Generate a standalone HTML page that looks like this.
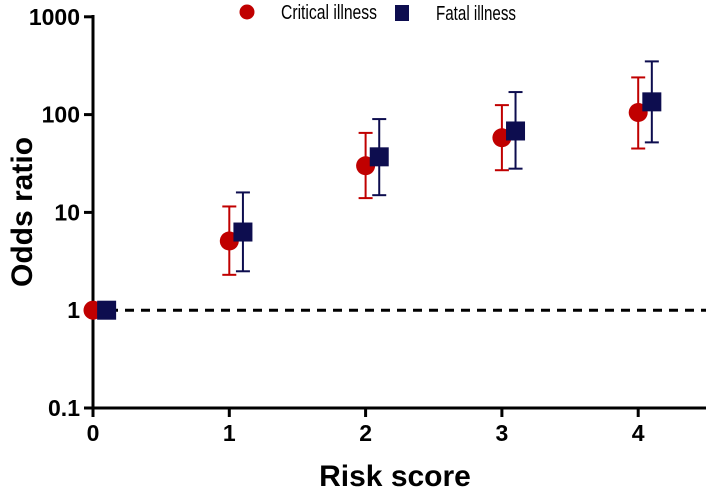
<!DOCTYPE html>
<html><head><meta charset="utf-8"><style>
body{margin:0;background:#fff;}
svg{display:block;font-family:"Liberation Sans",Arial,sans-serif;}
</style></head><body>
<svg id="c" width="709" height="496"></svg>
<script>
const categories=[0,1,2,3,4];
const critOR=[1,5.1,30,58,105];
const critLo=[1,2.3,14,27,45];
const critHi=[1,11.5,65,125,240];
const fatalOR=[1,6.3,37,68,135];
const fatalLo=[1,2.5,15,28,52];
const fatalHi=[1,16,90,170,350];
const yTicks=[0.1,1,10,100,1000];
const yTickLabels=["0.1","1","10","100","1000"];
const xTickLabels=["0","1","2","3","4"];

const svg=document.getElementById('c');
const NS='http://www.w3.org/2000/svg';
function X(v){return 93+v*136.3;}
function Y(v){return 408-(Math.log10(v)+1)*97.8;}
function el(t,a,name,parent){const e=document.createElementNS(NS,t);for(const k in a)e.setAttribute(k,a[k]);


(parent||svg).appendChild(e);return e;}
el('line',{x1:93,y1:15,x2:93,y2:409.5,stroke:'#000','stroke-width':3},'y-axis');
el('line',{x1:91.5,y1:408,x2:706,y2:408,stroke:'#000','stroke-width':3},'x-axis');
yTicks.forEach((t,i)=>{
 el('line',{x1:84,y1:Y(t),x2:93,y2:Y(t),stroke:'#000','stroke-width':3},'y-tick');
 const tx=el('text',{x:80,y:Y(t)+8,'text-anchor':'end','font-size':23,'font-weight':'bold'},'y-tick-label');tx.textContent=yTickLabels[i];
});
categories.forEach((c,i)=>{
 el('line',{x1:X(c),y1:408,x2:X(c),y2:417,stroke:'#000','stroke-width':3},'x-tick');
 const tx=el('text',{x:X(c),y:441,'text-anchor':'middle','font-size':23,'font-weight':'bold'},'x-tick-label');tx.textContent=xTickLabels[i];
});
const xt=el('text',{x:395,y:486,'text-anchor':'middle','font-size':30,'font-weight':'bold'},'x-axis-title');xt.textContent='Risk score';
const yt=el('text',{x:0,y:0,'text-anchor':'middle','font-size':30,'font-weight':'bold',transform:'translate(32,212) rotate(-90)'},'y-axis-title');yt.textContent='Odds ratio';
el('line',{x1:93,y1:Y(1),x2:706,y2:Y(1),stroke:'#000','stroke-width':3,'stroke-dasharray':'9,7'},'reference-line');
function series(or,lo,hi,off,color,shape,name){
 categories.forEach((c,i)=>{
  const x=X(c+off);
  if(hi[i]!==lo[i]){
   el('line',{x1:x,y1:Y(hi[i]),x2:x,y2:Y(lo[i]),stroke:color,'stroke-width':2},name+'-error-bar');
   el('line',{x1:x-7,y1:Y(hi[i]),x2:x+7,y2:Y(hi[i]),stroke:color,'stroke-width':2},name+'-cap');
   el('line',{x1:x-7,y1:Y(lo[i]),x2:x+7,y2:Y(lo[i]),stroke:color,'stroke-width':2},name+'-cap');
  }
  if(shape==='c')el('circle',{cx:x,cy:Y(or[i]),r:9.5,fill:color},name+'-point');
  else el('rect',{x:x-9.5,y:Y(or[i])-9.5,width:19,height:19,fill:color},name+'-point');
 });
}
series(critOR,critLo,critHi,0,'#c00000','c','critical');
series(fatalOR,fatalLo,fatalHi,0.1,'#0d0d4f','s','fatal');
const lg=el('g',{},'legend');
el('circle',{cx:247,cy:12,r:7.5,fill:'#c00000'},'legend-marker-critical',lg);
let t=el('text',{x:281,y:19,'font-size':20,textLength:96,lengthAdjust:'spacingAndGlyphs'},'legend-label-critical',lg);t.textContent='Critical illness';
el('rect',{x:395,y:5,width:14,height:16,fill:'#0d0d4f'},'legend-marker-fatal',lg);
t=el('text',{x:436,y:20,'font-size':20,textLength:80,lengthAdjust:'spacingAndGlyphs'},'legend-label-fatal',lg);t.textContent='Fatal illness';
</script>
</body></html>
